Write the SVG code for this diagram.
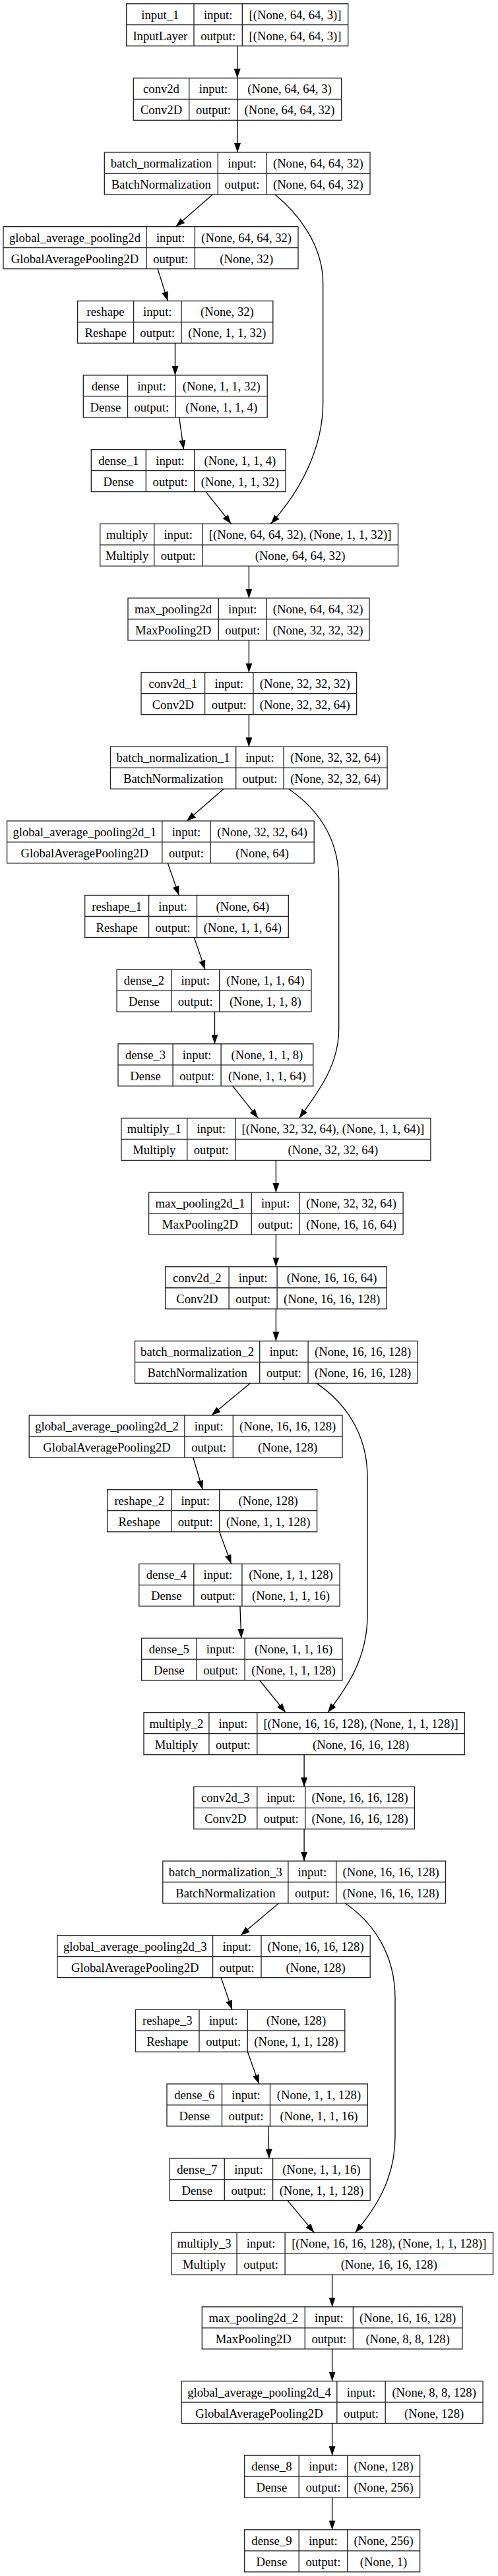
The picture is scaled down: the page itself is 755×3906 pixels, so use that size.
<svg xmlns="http://www.w3.org/2000/svg" width="755" height="3906" viewBox="0 0 755 3906">
<defs>
<style>
.b{fill:#fff;stroke:#222;stroke-width:1.33}
.d{fill:none;stroke:#222;stroke-width:1.33}
.t{font-family:"Liberation Serif","Times New Roman",serif;font-size:18.67px;text-anchor:middle;fill:#000}
.e{fill:none;stroke:#000;stroke-width:1.33;marker-end:url(#ah)}
</style>
<marker id="ah" viewBox="0 0 14 10" refX="14" refY="5" markerWidth="14" markerHeight="10" markerUnits="userSpaceOnUse" orient="auto"><path d="M0,0L14,5L0,10z" fill="#000"/></marker>
</defs>
<rect width="755" height="3906" fill="#fff"/>
<g id="nodes">
<g id="input_1"><rect class="b" x="191.7" y="5.7" width="336" height="64"/><path class="d" d="M294,5.7V69.7M367.3,5.7V69.7M191.7,37.7H527.7"/>
<text class="t" x="242.85" y="28.7">input_1</text><text class="t" x="330.65" y="28.7">input:</text><text class="t" x="447.5" y="28.7">[(None, 64, 64, 3)]</text>
<text class="t" x="242.85" y="60.7">InputLayer</text><text class="t" x="330.65" y="60.7">output:</text><text class="t" x="447.5" y="60.7">[(None, 64, 64, 3)]</text></g>
<g id="conv2d"><rect class="b" x="202.3" y="118.35" width="315.4" height="64"/><path class="d" d="M286.7,118.35V182.35M360.3,118.35V182.35M202.3,150.35H517.7"/>
<text class="t" x="244.5" y="141.35">conv2d</text><text class="t" x="323.5" y="141.35">input:</text><text class="t" x="439" y="141.35">(None, 64, 64, 3)</text>
<text class="t" x="244.5" y="173.35">Conv2D</text><text class="t" x="323.5" y="173.35">output:</text><text class="t" x="439" y="173.35">(None, 64, 64, 32)</text></g>
<g id="batch_normalization"><rect class="b" x="158.3" y="231" width="402.7" height="64"/><path class="d" d="M330.3,231V295M403.7,231V295M158.3,263H561"/>
<text class="t" x="244.3" y="254">batch_normalization</text><text class="t" x="367" y="254">input:</text><text class="t" x="482.35" y="254">(None, 64, 64, 32)</text>
<text class="t" x="244.3" y="286">BatchNormalization</text><text class="t" x="367" y="286">output:</text><text class="t" x="482.35" y="286">(None, 64, 64, 32)</text></g>
<g id="global_average_pooling2d"><rect class="b" x="5" y="343.65" width="447" height="64"/><path class="d" d="M222,343.65V407.65M295.4,343.65V407.65M5,375.65H452"/>
<text class="t" x="113.5" y="366.65">global_average_pooling2d</text><text class="t" x="258.7" y="366.65">input:</text><text class="t" x="373.7" y="366.65">(None, 64, 64, 32)</text>
<text class="t" x="113.5" y="398.65">GlobalAveragePooling2D</text><text class="t" x="258.7" y="398.65">output:</text><text class="t" x="373.7" y="398.65">(None, 32)</text></g>
<g id="reshape"><rect class="b" x="117.6" y="456.3" width="296.2" height="64"/><path class="d" d="M202.6,456.3V520.3M275,456.3V520.3M117.6,488.3H413.8"/>
<text class="t" x="160.1" y="479.3">reshape</text><text class="t" x="238.8" y="479.3">input:</text><text class="t" x="344.4" y="479.3">(None, 32)</text>
<text class="t" x="160.1" y="511.3">Reshape</text><text class="t" x="238.8" y="511.3">output:</text><text class="t" x="344.4" y="511.3">(None, 1, 1, 32)</text></g>
<g id="dense"><rect class="b" x="126.3" y="568.95" width="278.9" height="64"/><path class="d" d="M193.5,568.95V632.95M266.3,568.95V632.95M126.3,600.95H405.2"/>
<text class="t" x="159.9" y="591.95">dense</text><text class="t" x="229.9" y="591.95">input:</text><text class="t" x="335.75" y="591.95">(None, 1, 1, 32)</text>
<text class="t" x="159.9" y="623.95">Dense</text><text class="t" x="229.9" y="623.95">output:</text><text class="t" x="335.75" y="623.95">(None, 1, 1, 4)</text></g>
<g id="dense_1"><rect class="b" x="138.3" y="681.6" width="294.7" height="64"/><path class="d" d="M221.3,681.6V745.6M294.7,681.6V745.6M138.3,713.6H433"/>
<text class="t" x="179.8" y="704.6">dense_1</text><text class="t" x="258" y="704.6">input:</text><text class="t" x="363.85" y="704.6">(None, 1, 1, 4)</text>
<text class="t" x="179.8" y="736.6">Dense</text><text class="t" x="258" y="736.6">output:</text><text class="t" x="363.85" y="736.6">(None, 1, 1, 32)</text></g>
<g id="multiply"><rect class="b" x="151.7" y="794.25" width="451.8" height="64"/><path class="d" d="M233.7,794.25V858.25M306.7,794.25V858.25M151.7,826.25H603.5"/>
<text class="t" x="192.7" y="817.25">multiply</text><text class="t" x="270.2" y="817.25">input:</text><text class="t" x="455.1" y="817.25">[(None, 64, 64, 32), (None, 1, 1, 32)]</text>
<text class="t" x="192.7" y="849.25">Multiply</text><text class="t" x="270.2" y="849.25">output:</text><text class="t" x="455.1" y="849.25">(None, 64, 64, 32)</text></g>
<g id="max_pooling2d"><rect class="b" x="194" y="906.9" width="366" height="64"/><path class="d" d="M331.3,906.9V970.9M404.3,906.9V970.9M194,938.9H560"/>
<text class="t" x="262.65" y="929.9">max_pooling2d</text><text class="t" x="367.8" y="929.9">input:</text><text class="t" x="482.15" y="929.9">(None, 64, 64, 32)</text>
<text class="t" x="262.65" y="961.9">MaxPooling2D</text><text class="t" x="367.8" y="961.9">output:</text><text class="t" x="482.15" y="961.9">(None, 32, 32, 32)</text></g>
<g id="conv2d_1"><rect class="b" x="214" y="1019.55" width="326.6" height="64"/><path class="d" d="M310.6,1019.55V1083.55M383.9,1019.55V1083.55M214,1051.55H540.6"/>
<text class="t" x="262.3" y="1042.55">conv2d_1</text><text class="t" x="347.25" y="1042.55">input:</text><text class="t" x="462.25" y="1042.55">(None, 32, 32, 32)</text>
<text class="t" x="262.3" y="1074.55">Conv2D</text><text class="t" x="347.25" y="1074.55">output:</text><text class="t" x="462.25" y="1074.55">(None, 32, 32, 64)</text></g>
<g id="batch_normalization_1"><rect class="b" x="167.5" y="1132.2" width="419.6" height="64"/><path class="d" d="M357.7,1132.2V1196.2M430.1,1132.2V1196.2M167.5,1164.2H587.1"/>
<text class="t" x="262.6" y="1155.2">batch_normalization_1</text><text class="t" x="393.9" y="1155.2">input:</text><text class="t" x="508.6" y="1155.2">(None, 32, 32, 64)</text>
<text class="t" x="262.6" y="1187.2">BatchNormalization</text><text class="t" x="393.9" y="1187.2">output:</text><text class="t" x="508.6" y="1187.2">(None, 32, 32, 64)</text></g>
<g id="global_average_pooling2d_1"><rect class="b" x="10.6" y="1244.85" width="465.6" height="64"/><path class="d" d="M245.8,1244.85V1308.85M319.1,1244.85V1308.85M10.6,1276.85H476.2"/>
<text class="t" x="128.2" y="1267.85">global_average_pooling2d_1</text><text class="t" x="282.45" y="1267.85">input:</text><text class="t" x="397.65" y="1267.85">(None, 32, 32, 64)</text>
<text class="t" x="128.2" y="1299.85">GlobalAveragePooling2D</text><text class="t" x="282.45" y="1299.85">output:</text><text class="t" x="397.65" y="1299.85">(None, 64)</text></g>
<g id="reshape_1"><rect class="b" x="128.7" y="1357.5" width="308.6" height="64"/><path class="d" d="M225.6,1357.5V1421.5M298.5,1357.5V1421.5M128.7,1389.5H437.3"/>
<text class="t" x="177.15" y="1380.5">reshape_1</text><text class="t" x="262.05" y="1380.5">input:</text><text class="t" x="367.9" y="1380.5">(None, 64)</text>
<text class="t" x="177.15" y="1412.5">Reshape</text><text class="t" x="262.05" y="1412.5">output:</text><text class="t" x="367.9" y="1412.5">(None, 1, 1, 64)</text></g>
<g id="dense_2"><rect class="b" x="177.1" y="1470.15" width="294.8" height="64"/><path class="d" d="M259.7,1470.15V1534.15M332.7,1470.15V1534.15M177.1,1502.15H471.9"/>
<text class="t" x="218.4" y="1493.15">dense_2</text><text class="t" x="296.2" y="1493.15">input:</text><text class="t" x="402.3" y="1493.15">(None, 1, 1, 64)</text>
<text class="t" x="218.4" y="1525.15">Dense</text><text class="t" x="296.2" y="1525.15">output:</text><text class="t" x="402.3" y="1525.15">(None, 1, 1, 8)</text></g>
<g id="dense_3"><rect class="b" x="179" y="1582.8" width="295.8" height="64"/><path class="d" d="M262.1,1582.8V1646.8M335.1,1582.8V1646.8M179,1614.8H474.8"/>
<text class="t" x="220.55" y="1605.8">dense_3</text><text class="t" x="298.6" y="1605.8">input:</text><text class="t" x="404.95" y="1605.8">(None, 1, 1, 8)</text>
<text class="t" x="220.55" y="1637.8">Dense</text><text class="t" x="298.6" y="1637.8">output:</text><text class="t" x="404.95" y="1637.8">(None, 1, 1, 64)</text></g>
<g id="multiply_1"><rect class="b" x="183.9" y="1695.45" width="469" height="64"/><path class="d" d="M283.7,1695.45V1759.45M356.7,1695.45V1759.45M183.9,1727.45H652.9"/>
<text class="t" x="233.8" y="1718.45">multiply_1</text><text class="t" x="320.2" y="1718.45">input:</text><text class="t" x="504.8" y="1718.45">[(None, 32, 32, 64), (None, 1, 1, 64)]</text>
<text class="t" x="233.8" y="1750.45">Multiply</text><text class="t" x="320.2" y="1750.45">output:</text><text class="t" x="504.8" y="1750.45">(None, 32, 32, 64)</text></g>
<g id="max_pooling2d_1"><rect class="b" x="225.6" y="1808.1" width="385.5" height="64"/><path class="d" d="M381.2,1808.1V1872.1M454.2,1808.1V1872.1M225.6,1840.1H611.1"/>
<text class="t" x="303.4" y="1831.1">max_pooling2d_1</text><text class="t" x="417.7" y="1831.1">input:</text><text class="t" x="532.65" y="1831.1">(None, 32, 32, 64)</text>
<text class="t" x="303.4" y="1863.1">MaxPooling2D</text><text class="t" x="417.7" y="1863.1">output:</text><text class="t" x="532.65" y="1863.1">(None, 16, 16, 64)</text></g>
<g id="conv2d_2"><rect class="b" x="250.6" y="1920.75" width="335.6" height="64"/><path class="d" d="M347.1,1920.75V1984.75M420.1,1920.75V1984.75M250.6,1952.75H586.2"/>
<text class="t" x="298.85" y="1943.75">conv2d_2</text><text class="t" x="383.6" y="1943.75">input:</text><text class="t" x="503.15" y="1943.75">(None, 16, 16, 64)</text>
<text class="t" x="298.85" y="1975.75">Conv2D</text><text class="t" x="383.6" y="1975.75">output:</text><text class="t" x="503.15" y="1975.75">(None, 16, 16, 128)</text></g>
<g id="batch_normalization_2"><rect class="b" x="204.5" y="2033.4" width="428.7" height="64"/><path class="d" d="M393.7,2033.4V2097.4M467.1,2033.4V2097.4M204.5,2065.4H633.2"/>
<text class="t" x="299.1" y="2056.4">batch_normalization_2</text><text class="t" x="430.4" y="2056.4">input:</text><text class="t" x="550.15" y="2056.4">(None, 16, 16, 128)</text>
<text class="t" x="299.1" y="2088.4">BatchNormalization</text><text class="t" x="430.4" y="2088.4">output:</text><text class="t" x="550.15" y="2088.4">(None, 16, 16, 128)</text></g>
<g id="global_average_pooling2d_2"><rect class="b" x="44.2" y="2146.05" width="474.8" height="64"/><path class="d" d="M279.9,2146.05V2210.05M353.3,2146.05V2210.05M44.2,2178.05H519"/>
<text class="t" x="162.05" y="2169.05">global_average_pooling2d_2</text><text class="t" x="316.6" y="2169.05">input:</text><text class="t" x="436.15" y="2169.05">(None, 16, 16, 128)</text>
<text class="t" x="162.05" y="2201.05">GlobalAveragePooling2D</text><text class="t" x="316.6" y="2201.05">output:</text><text class="t" x="436.15" y="2201.05">(None, 128)</text></g>
<g id="reshape_2"><rect class="b" x="162.7" y="2258.7" width="317.9" height="64"/><path class="d" d="M259.7,2258.7V2322.7M332.7,2258.7V2322.7M162.7,2290.7H480.6"/>
<text class="t" x="211.2" y="2281.7">reshape_2</text><text class="t" x="296.2" y="2281.7">input:</text><text class="t" x="406.65" y="2281.7">(None, 128)</text>
<text class="t" x="211.2" y="2313.7">Reshape</text><text class="t" x="296.2" y="2313.7">output:</text><text class="t" x="406.65" y="2313.7">(None, 1, 1, 128)</text></g>
<g id="dense_4"><rect class="b" x="210.8" y="2371.35" width="304.3" height="64"/><path class="d" d="M293.8,2371.35V2435.35M366.9,2371.35V2435.35M210.8,2403.35H515.1"/>
<text class="t" x="252.3" y="2394.35">dense_4</text><text class="t" x="330.35" y="2394.35">input:</text><text class="t" x="441" y="2394.35">(None, 1, 1, 128)</text>
<text class="t" x="252.3" y="2426.35">Dense</text><text class="t" x="330.35" y="2426.35">output:</text><text class="t" x="441" y="2426.35">(None, 1, 1, 16)</text></g>
<g id="dense_5"><rect class="b" x="214.6" y="2484" width="304.4" height="64"/><path class="d" d="M298.1,2484V2548M371.1,2484V2548M214.6,2516H519"/>
<text class="t" x="256.35" y="2507">dense_5</text><text class="t" x="334.6" y="2507">input:</text><text class="t" x="445.05" y="2507">(None, 1, 1, 16)</text>
<text class="t" x="256.35" y="2539">Dense</text><text class="t" x="334.6" y="2539">output:</text><text class="t" x="445.05" y="2539">(None, 1, 1, 128)</text></g>
<g id="multiply_2"><rect class="b" x="218" y="2596.65" width="486.3" height="64"/><path class="d" d="M316.9,2596.65V2660.65M389.8,2596.65V2660.65M218,2628.65H704.3"/>
<text class="t" x="267.45" y="2619.65">multiply_2</text><text class="t" x="353.35" y="2619.65">input:</text><text class="t" x="547.05" y="2619.65">[(None, 16, 16, 128), (None, 1, 1, 128)]</text>
<text class="t" x="267.45" y="2651.65">Multiply</text><text class="t" x="353.35" y="2651.65">output:</text><text class="t" x="547.05" y="2651.65">(None, 16, 16, 128)</text></g>
<g id="conv2d_3"><rect class="b" x="293.8" y="2709.3" width="334.6" height="64"/><path class="d" d="M389.8,2709.3V2773.3M462.8,2709.3V2773.3M293.8,2741.3H628.4"/>
<text class="t" x="341.8" y="2732.3">conv2d_3</text><text class="t" x="426.3" y="2732.3">input:</text><text class="t" x="545.6" y="2732.3">(None, 16, 16, 128)</text>
<text class="t" x="341.8" y="2764.3">Conv2D</text><text class="t" x="426.3" y="2764.3">output:</text><text class="t" x="545.6" y="2764.3">(None, 16, 16, 128)</text></g>
<g id="batch_normalization_3"><rect class="b" x="246.8" y="2821.95" width="428.7" height="64"/><path class="d" d="M436.9,2821.95V2885.95M509.8,2821.95V2885.95M246.8,2853.95H675.5"/>
<text class="t" x="341.85" y="2844.95">batch_normalization_3</text><text class="t" x="473.35" y="2844.95">input:</text><text class="t" x="592.65" y="2844.95">(None, 16, 16, 128)</text>
<text class="t" x="341.85" y="2876.95">BatchNormalization</text><text class="t" x="473.35" y="2876.95">output:</text><text class="t" x="592.65" y="2876.95">(None, 16, 16, 128)</text></g>
<g id="global_average_pooling2d_3"><rect class="b" x="86.9" y="2934.6" width="474.3" height="64"/><path class="d" d="M322.6,2934.6V2998.6M396,2934.6V2998.6M86.9,2966.6H561.2"/>
<text class="t" x="204.75" y="2957.6">global_average_pooling2d_3</text><text class="t" x="359.3" y="2957.6">input:</text><text class="t" x="478.6" y="2957.6">(None, 16, 16, 128)</text>
<text class="t" x="204.75" y="2989.6">GlobalAveragePooling2D</text><text class="t" x="359.3" y="2989.6">output:</text><text class="t" x="478.6" y="2989.6">(None, 128)</text></g>
<g id="reshape_3"><rect class="b" x="205.5" y="3047.25" width="317.3" height="64"/><path class="d" d="M302,3047.25V3111.25M375.3,3047.25V3111.25M205.5,3079.25H522.8"/>
<text class="t" x="253.75" y="3070.25">reshape_3</text><text class="t" x="338.65" y="3070.25">input:</text><text class="t" x="449.05" y="3070.25">(None, 128)</text>
<text class="t" x="253.75" y="3102.25">Reshape</text><text class="t" x="338.65" y="3102.25">output:</text><text class="t" x="449.05" y="3102.25">(None, 1, 1, 128)</text></g>
<g id="dense_6"><rect class="b" x="253" y="3159.9" width="304.4" height="64"/><path class="d" d="M336.5,3159.9V3223.9M409.5,3159.9V3223.9M253,3191.9H557.4"/>
<text class="t" x="294.75" y="3182.9">dense_6</text><text class="t" x="373" y="3182.9">input:</text><text class="t" x="483.45" y="3182.9">(None, 1, 1, 128)</text>
<text class="t" x="294.75" y="3214.9">Dense</text><text class="t" x="373" y="3214.9">output:</text><text class="t" x="483.45" y="3214.9">(None, 1, 1, 16)</text></g>
<g id="dense_7"><rect class="b" x="257.3" y="3272.55" width="303.9" height="64"/><path class="d" d="M340.3,3272.55V3336.55M413.6,3272.55V3336.55M257.3,3304.55H561.2"/>
<text class="t" x="298.8" y="3295.55">dense_7</text><text class="t" x="376.95" y="3295.55">input:</text><text class="t" x="487.4" y="3295.55">(None, 1, 1, 16)</text>
<text class="t" x="298.8" y="3327.55">Dense</text><text class="t" x="376.95" y="3327.55">output:</text><text class="t" x="487.4" y="3327.55">(None, 1, 1, 128)</text></g>
<g id="multiply_3"><rect class="b" x="260.2" y="3385.2" width="487.3" height="64"/><path class="d" d="M359.1,3385.2V3449.2M432.1,3385.2V3449.2M260.2,3417.2H747.5"/>
<text class="t" x="309.65" y="3408.2">multiply_3</text><text class="t" x="395.6" y="3408.2">input:</text><text class="t" x="589.8" y="3408.2">[(None, 16, 16, 128), (None, 1, 1, 128)]</text>
<text class="t" x="309.65" y="3440.2">Multiply</text><text class="t" x="395.6" y="3440.2">output:</text><text class="t" x="589.8" y="3440.2">(None, 16, 16, 128)</text></g>
<g id="max_pooling2d_2"><rect class="b" x="306.3" y="3497.85" width="394.6" height="64"/><path class="d" d="M462.3,3497.85V3561.85M535.4,3497.85V3561.85M306.3,3529.85H700.9"/>
<text class="t" x="384.3" y="3520.85">max_pooling2d_2</text><text class="t" x="498.85" y="3520.85">input:</text><text class="t" x="618.15" y="3520.85">(None, 16, 16, 128)</text>
<text class="t" x="384.3" y="3552.85">MaxPooling2D</text><text class="t" x="498.85" y="3552.85">output:</text><text class="t" x="618.15" y="3552.85">(None, 8, 8, 128)</text></g>
<g id="global_average_pooling2d_4"><rect class="b" x="275.1" y="3610.5" width="457" height="64"/><path class="d" d="M510.8,3610.5V3674.5M584.2,3610.5V3674.5M275.1,3642.5H732.1"/>
<text class="t" x="392.95" y="3633.5">global_average_pooling2d_4</text><text class="t" x="547.5" y="3633.5">input:</text><text class="t" x="658.15" y="3633.5">(None, 8, 8, 128)</text>
<text class="t" x="392.95" y="3665.5">GlobalAveragePooling2D</text><text class="t" x="547.5" y="3665.5">output:</text><text class="t" x="658.15" y="3665.5">(None, 128)</text></g>
<g id="dense_8"><rect class="b" x="370.6" y="3723.15" width="266" height="64"/><path class="d" d="M453.2,3723.15V3787.15M526.6,3723.15V3787.15M370.6,3755.15H636.6"/>
<text class="t" x="411.9" y="3746.15">dense_8</text><text class="t" x="489.9" y="3746.15">input:</text><text class="t" x="581.6" y="3746.15">(None, 128)</text>
<text class="t" x="411.9" y="3778.15">Dense</text><text class="t" x="489.9" y="3778.15">output:</text><text class="t" x="581.6" y="3778.15">(None, 256)</text></g>
<g id="dense_9"><rect class="b" x="370.6" y="3835.8" width="266" height="64"/><path class="d" d="M453.2,3835.8V3899.8M526.6,3835.8V3899.8M370.6,3867.8H636.6"/>
<text class="t" x="411.9" y="3858.8">dense_9</text><text class="t" x="489.9" y="3858.8">input:</text><text class="t" x="581.6" y="3858.8">(None, 256)</text>
<text class="t" x="411.9" y="3890.8">Dense</text><text class="t" x="489.9" y="3890.8">output:</text><text class="t" x="581.6" y="3890.8">(None, 1)</text></g>
</g>
<g id="connectors">
<path class="e" d="M359.7,69.7V118.35"/>
<path class="e" d="M360,182.35V231"/>
<path class="e" d="M322.3,295L266.4,343.65"/>
<path class="e" d="M417,295C450,322 489.7,370 489.7,430L489.7,610C489.7,680 455,745 410.5,794.25"/>
<path class="e" d="M239,407.65L254.4,456.3"/>
<path class="e" d="M265.5,520.3V568.95"/>
<path class="e" d="M271.7,632.95L278.4,681.6"/>
<path class="e" d="M312,745.6L350.5,794.25"/>
<path class="e" d="M377.4,858.25V906.9"/>
<path class="e" d="M377.4,970.9V1019.55"/>
<path class="e" d="M377.4,1083.55V1132.2"/>
<path class="e" d="M339,1196.2L283.2,1244.85"/>
<path class="e" d="M437.8,1196.2C475,1222 513.7,1265 513.7,1335L513.7,1560C513.7,1615 483,1655 453.7,1695.45"/>
<path class="e" d="M254.4,1308.85L271.2,1357.5"/>
<path class="e" d="M294.3,1421.5L311,1470.15"/>
<path class="e" d="M325.5,1534.15V1582.8"/>
<path class="e" d="M352.9,1646.8L391.3,1695.45"/>
<path class="e" d="M418.4,1759.45V1808.1"/>
<path class="e" d="M418.4,1872.1V1920.75"/>
<path class="e" d="M418.4,1984.75V2033.4"/>
<path class="e" d="M379.3,2097.4L320.7,2146.05"/>
<path class="e" d="M480,2097.4C520,2125 557,2170 557,2240L557,2450C557,2515 525,2560 496.9,2596.65"/>
<path class="e" d="M292.8,2210.05L307.2,2258.7"/>
<path class="e" d="M332.7,2322.7L350.5,2371.35"/>
<path class="e" d="M363.9,2435.35L365.8,2484"/>
<path class="e" d="M393.7,2548L433,2596.65"/>
<path class="e" d="M461.1,2660.65V2709.3"/>
<path class="e" d="M461.1,2773.3V2821.95"/>
<path class="e" d="M422.5,2885.95L364.9,2934.6"/>
<path class="e" d="M523.3,2885.95C563,2913 599,2960 599,3030L599,3240C599,3305 568,3350 538.6,3385.2"/>
<path class="e" d="M335.1,2998.6L351.9,3047.25"/>
<path class="e" d="M375.4,3111.25L392.7,3159.9"/>
<path class="e" d="M406.6,3223.9L408,3272.55"/>
<path class="e" d="M435.9,3336.55L476.2,3385.2"/>
<path class="e" d="M503.6,3449.2V3497.85"/>
<path class="e" d="M503.6,3561.85V3610.5"/>
<path class="e" d="M503.6,3674.5V3723.15"/>
<path class="e" d="M503.6,3787.15V3835.8"/>
</g>
</svg>
